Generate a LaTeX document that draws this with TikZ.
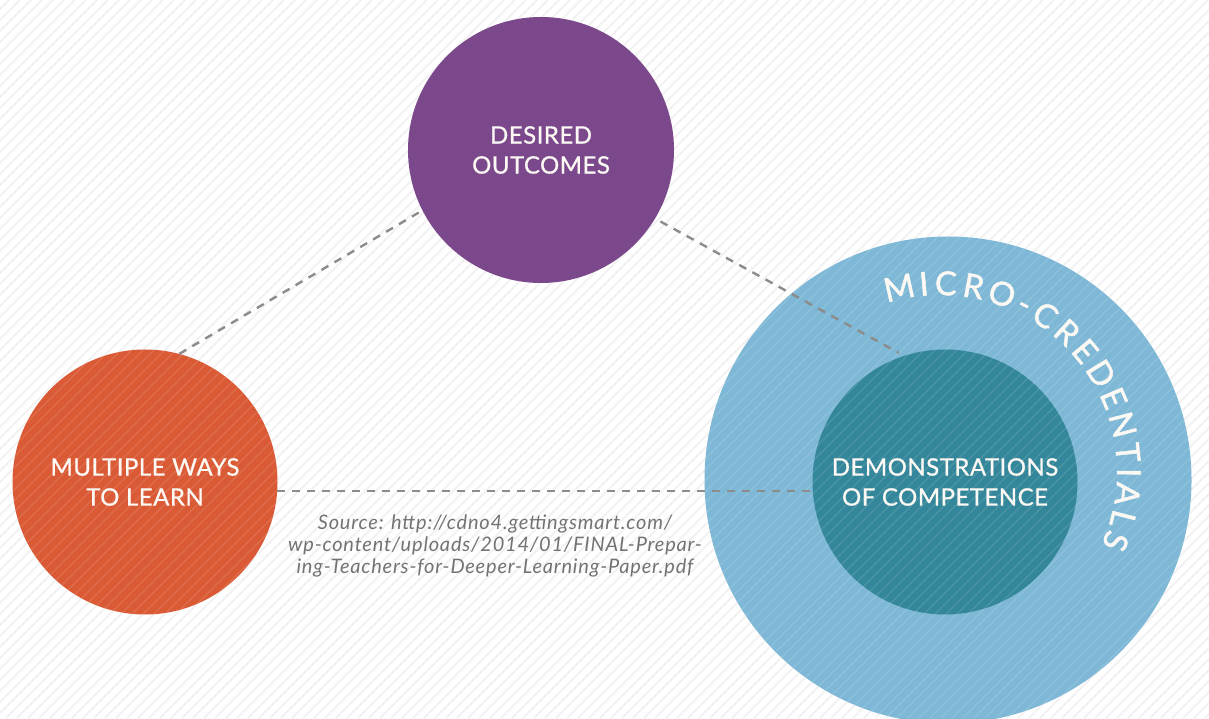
\documentclass[tikz,border=0pt]{standalone}
\usepackage{fontspec}
\setmainfont{Lato}
\newfontfamily\ballfont{Lato}[FakeBold=0.8,LetterSpace=2]
\newfontfamily\arcfont{Lato}[FakeBold=1.4]
\newfontfamily\srcfont{Lato}[LetterSpace=4]
\definecolor{outcomepurple}{RGB}{123,73,139}
\definecolor{learnorange}{RGB}{218,90,53}
\definecolor{microblue}{RGB}{126,184,214}
\definecolor{competeal}{RGB}{52,135,155}
\definecolor{linkgray}{RGB}{140,140,140}
\definecolor{sourcegray}{RGB}{115,115,115}
\definecolor{chalk}{RGB}{252,248,244}
\begin{document}
\begin{tikzpicture}[x=1pt,y=1pt,line join=round,
	ball/.style={circle,inner sep=0pt,text=chalk,align=center,font=\ballfont\fontsize{24}{30}\selectfont},
	link/.style={linkgray,line width=2.4pt,dash pattern=on 8pt off 7pt},
	arcletter/.style={text=chalk,inner sep=0pt,anchor=base,font=\arcfont\fontsize{33}{33}\selectfont}]
	%	background and stripes
	\useasboundingbox (0,0) rectangle (1209,718);
	\fill[white] (0,0) rectangle (1209,718);
	\begin{scope}
	\clip (0,0) rectangle (1209,718);
	\foreach \s in {-720,-709,...,1209}
		\draw[black!5,line width=2pt] (\s,0)--++(718,718);
	\end{scope}
	\node[ball,fill=microblue,minimum size=487pt] (micro) at (948,238) {};
	\node[ball,fill=competeal,minimum size=265pt] (demo) at (945,236) {DEMONSTRATIONS\\OF COMPETENCE};
	\node[ball,fill=outcomepurple,minimum size=266pt] (desired) at (541,568) {DESIRED\\OUTCOMES};
	\node[ball,fill=learnorange,minimum size=265pt] (ways) at (145,236) {MULTIPLE WAYS\\TO LEARN};
	\begin{scope}
	\clip (micro.center) circle (243.5) (ways.center) circle (132.5);
	\foreach \s in {-720,-709,...,1209}
		\draw[white,opacity=0.12,line width=1.2pt] (\s,0)--++(718,718);
	\end{scope}
	\draw[link] (ways.75)--(desired.207);
	\draw[link,shorten <=6pt,shorten >=6pt] (desired.-31.5)--(demo.108);
	\draw[link] (ways.-4.5)--(demo.184.5);
	%	curved label
	\coordinate (arcmid) at (940,246);
	\foreach \ch/\a in {M/102.5,I/94.9,C/88.2,R/79.7,O/70.8,-/63.2,C/56.1,R/47.7,E/39.8,
		D/31.4,E/23.0,N/14.5,T/5.9,I/-0.2,A/-6.7,L/-14.5,S/-21.5}
		\node[arcletter,rotate=\a-90] at ([shift={(\a:177)}]arcmid) {\ch};
	\node[text=sourcegray,align=center,font=\srcfont\fontsize{20}{22}\selectfont\itshape] (source) at (495,172)
		{Source: http://cdno4.gettingsmart.com/\\wp-content/uploads/2014/01/FINAL-Prepar-\\ing-Teachers-for-Deeper-Learning-Paper.pdf};
\end{tikzpicture}
\end{document}
